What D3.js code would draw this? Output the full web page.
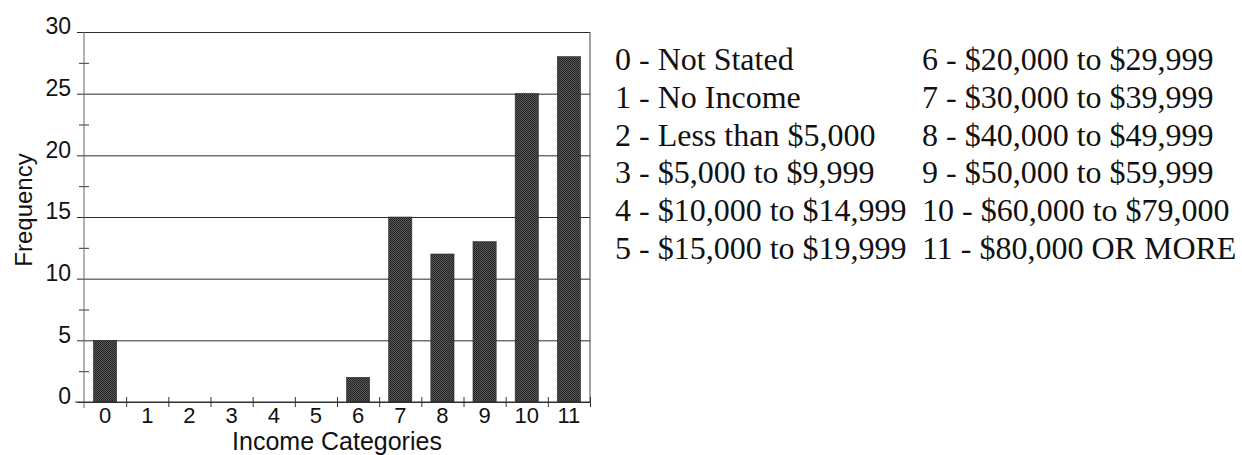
<!DOCTYPE html>
<html>
<head>
<meta charset="utf-8">
<script src="https://cdn.jsdelivr.net/npm/d3@7"></script>
<style>
  body { margin: 0; background: #fff; }
  svg { display: block; }
</style>
</head>
<body>
<svg width="1242" height="455"></svg>
<script>
// income categories and how many answered each
const categories = ["0", "1", "2", "3", "4", "5", "6", "7", "8", "9", "10", "11"]
const frequency = [5, 0, 0, 0, 0, 0, 2, 15, 12, 13, 25, 28]
const yTicks = [0, 5, 10, 15, 20, 25, 30]
const yMinorTicks = [2.5, 7.5, 12.5, 17.5, 22.5, 27.5]
const legendLeft = ["0 - Not Stated", "1 - No Income", "2 - Less than $5,000",
    "3 - $5,000 to $9,999", "4 - $10,000 to $14,999", "5 - $15,000 to $19,999"]
const legendRight = ["6 - $20,000 to $29,999", "7 - $30,000 to $39,999", "8 - $40,000 to $49,999",
    "9 - $50,000 to $59,999", "10 - $60,000 to $79,000", "11 - $80,000 OR MORE"]

const svg = d3.select('svg')
const sans = 'Liberation Sans, Arial, sans-serif'
const serif = 'Liberation Serif, Times New Roman, serif'

const plotLeft = 84, plotRight = 590, plotTop = 32, plotBottom = 402

const x = d3.scaleBand()
    .domain(categories)
    .range([plotLeft, plotRight])
    .paddingInner(0.45)
    .paddingOuter(0.225)

// boundaries between categories, for the x tick marks
const xEdge = d3.scaleLinear().domain([0, categories.length]).range([plotLeft, plotRight])

const y = d3.scaleLinear().domain([0, 30]).range([plotBottom, plotTop])

// halftone look of the bars
const defs = svg.append('defs')
const pat = defs.append('pattern')
    .attr('id', 'dots')
    .attr('width', 2).attr('height', 2)
    .attr('patternUnits', 'userSpaceOnUse')
pat.append('rect').attr('width', 2).attr('height', 2).attr('fill', '#555')
pat.append('rect').attr('width', 1).attr('height', 1).attr('fill', '#222')
pat.append('rect').attr('x', 1).attr('y', 1).attr('width', 1).attr('height', 1).attr('fill', '#2a2a2a')

// gridlines + y labels
svg.append('g')
    .attr('transform', `translate(${plotLeft},0)`)
    .call(d3.axisLeft(y).tickValues(yTicks).tickSizeInner(-(plotRight - plotLeft)).tickSizeOuter(0).tickPadding(13))
    .call(g => g.select('.domain').remove())
    .call(g => g.selectAll('.tick line').attr('x1', -7).attr('stroke', '#2b2b2b'))
    .call(g => g.selectAll('.tick text')
        .attr('dy', '0.08em')
        .attr('font-family', sans)
        .attr('font-size', 23)
        .attr('fill', '#111'))

// minor ticks crossing the y axis
svg.append('g')
    .attr('transform', `translate(${plotLeft},0)`)
    .call(d3.axisLeft(y).tickValues(yMinorTicks).tickSize(5).tickFormat(''))
    .call(g => g.select('.domain').remove())
    .call(g => g.selectAll('.tick line').attr('x1', 5).attr('stroke', '#333'))

// left axis line and right border
svg.append('line')
    .attr('x1', plotLeft).attr('x2', plotLeft).attr('y1', plotTop).attr('y2', plotBottom + 6)
    .attr('stroke', '#666')
svg.append('line')
    .attr('x1', plotRight).attr('x2', plotRight).attr('y1', plotTop).attr('y2', plotBottom)
    .attr('stroke', '#444')

// bars
svg.append('g')
    .selectAll('rect')
    .data(frequency)
    .enter()
    .append('rect')
    .attr('x', (d, i) => x(categories[i]))
    .attr('width', x.bandwidth())
    .attr('y', d => y(d))
    .attr('height', d => y(0) - y(d))
    .attr('fill', 'url(#dots)')
    .attr('stroke', '#2a2a2a')
    .attr('stroke-width', 0.6)

// x axis line with tick marks at category edges
svg.append('g')
    .attr('transform', `translate(0,${plotBottom})`)
    .call(d3.axisBottom(xEdge).tickValues(d3.range(1, categories.length + 1)).tickSize(5).tickFormat(''))
    .call(g => g.select('.domain').remove())
    .call(g => g.selectAll('.tick line').attr('y1', -5).attr('stroke', '#333'))
svg.append('line')
    .attr('x1', plotLeft - 9).attr('x2', plotRight).attr('y1', plotBottom).attr('y2', plotBottom)
    .attr('stroke', '#333')

// x labels
svg.append('g')
    .attr('transform', `translate(0,${plotBottom})`)
    .call(d3.axisBottom(x).tickSize(0).tickPadding(5))
    .call(g => g.select('.domain').remove())
    .call(g => g.selectAll('.tick text')
        .attr('font-family', sans)
        .attr('font-size', 22)
        .attr('fill', '#111'))

// axis titles
svg.append('text')
    .attr('x', (plotLeft + plotRight) / 2)
    .attr('y', 450)
    .attr('text-anchor', 'middle')
    .attr('font-family', sans)
    .attr('font-size', 25)
    .attr('fill', '#111')
    .text('Income Categories')

svg.append('text')
    .attr('transform', 'translate(32,210) rotate(-90)')
    .attr('text-anchor', 'middle')
    .attr('font-family', sans)
    .attr('font-size', 24)
    .attr('fill', '#111')
    .text('Frequency')

// legend of the category codes
const legend = svg.append('g')
    .attr('font-family', serif)
    .attr('font-size', 32)
    .attr('fill', '#111')

legend.selectAll('text.l')
    .data(legendLeft)
    .enter()
    .append('text')
    .attr('class', 'l')
    .attr('x', 615)
    .attr('y', (d, i) => 70 + i * 37.8)
    .text(d => d)

legend.selectAll('text.r')
    .data(legendRight)
    .enter()
    .append('text')
    .attr('class', 'r')
    .attr('x', 922)
    .attr('y', (d, i) => 70 + i * 37.8)
    .text(d => d)
</script>
</body>
</html>
